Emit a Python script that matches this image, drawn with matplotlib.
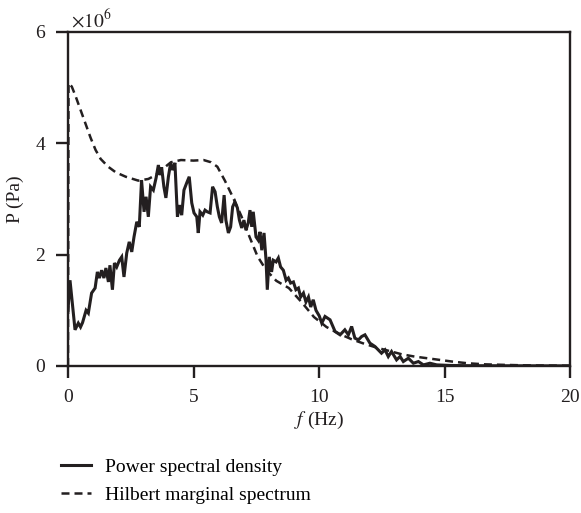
import matplotlib
matplotlib.use("Agg")
import matplotlib.pyplot as plt

plt.rcParams['font.family'] = ['Liberation Serif', 'DejaVu Serif']
plt.rcParams['mathtext.fontset'] = 'stix'

# Power spectral density (x10^6 Pa)
psd_f = [0.0, 0.08, 0.19, 0.28, 0.41, 0.50, 0.58, 0.72, 0.81, 0.94, 1.08, 1.17, 1.25, 1.34, 1.43,
         1.51, 1.61, 1.67, 1.77, 1.85, 1.94, 2.05, 2.14, 2.23, 2.34, 2.44, 2.54, 2.63, 2.74,
         2.84, 2.93, 3.03, 3.11, 3.20, 3.29, 3.40, 3.51, 3.60, 3.67, 3.73, 3.82, 3.90, 4.00,
         4.09, 4.17, 4.26, 4.36, 4.44, 4.53, 4.62, 4.73, 4.83, 4.93, 5.02, 5.13, 5.19, 5.26,
         5.37, 5.46, 5.55, 5.66, 5.76, 5.86, 5.95, 6.03, 6.12, 6.22, 6.29, 6.39, 6.48, 6.56,
         6.65, 6.75, 6.83, 6.92, 7.01, 7.09, 7.18, 7.25, 7.32, 7.38, 7.49, 7.58, 7.65, 7.72,
         7.81, 7.89, 7.94, 8.02, 8.11, 8.18, 8.29, 8.38, 8.47, 8.58, 8.69, 8.78, 8.87, 8.98,
         9.08, 9.18, 9.27, 9.38, 9.48, 9.58, 9.67, 9.77, 9.88, 10.01, 10.11, 10.24, 10.44,
         10.64, 10.84, 11.03, 11.17, 11.30, 11.43, 11.57, 11.70, 11.83, 12.03, 12.23, 12.36,
         12.49, 12.63, 12.76, 12.89, 13.09, 13.23, 13.36, 13.56, 13.76, 13.96, 14.16, 14.42,
         14.69, 15.22, 16.0, 17.0, 18.0, 19.0, 20.0]
psd_p = [1.00, 1.54, 1.06, 0.65, 0.77, 0.70, 0.78, 1.00, 0.95, 1.31, 1.40, 1.69, 1.58, 1.72, 1.58,
         1.76, 1.51, 1.81, 1.37, 1.85, 1.78, 1.90, 1.96, 1.60, 2.03, 2.23, 2.05, 2.32, 2.59,
         2.50, 3.34, 2.77, 3.04, 2.68, 3.22, 3.16, 3.38, 3.61, 3.43, 3.57, 3.22, 3.02, 3.40,
         3.65, 3.52, 3.65, 2.68, 2.89, 2.71, 3.16, 3.29, 3.40, 2.93, 2.75, 2.68, 2.39, 2.77,
         2.71, 2.80, 2.77, 2.75, 3.22, 3.13, 2.86, 2.68, 2.57, 3.07, 2.62, 2.39, 2.50, 2.86,
         2.95, 2.84, 2.62, 2.48, 2.62, 2.44, 2.57, 2.80, 2.50, 2.77, 2.32, 2.26, 2.41, 2.08,
         2.39, 1.90, 1.37, 1.96, 1.69, 1.90, 1.87, 1.94, 1.78, 1.72, 1.54, 1.58, 1.49, 1.51,
         1.37, 1.40, 1.24, 1.31, 1.15, 1.24, 1.06, 1.19, 1.00, 0.90, 0.77, 0.89, 0.83,
         0.62, 0.56, 0.65, 0.56, 0.71, 0.50, 0.47, 0.53, 0.56, 0.41, 0.35, 0.29,
         0.23, 0.29, 0.17, 0.26, 0.11, 0.17, 0.08, 0.14, 0.05, 0.08, 0.02, 0.05,
         0.02, 0.01, 0.005, 0.004, 0.003, 0.002, 0.002]

# Hilbert marginal spectrum (x10^6 Pa)
hms_f = [0.0, 0.02, 0.15, 0.3, 0.5, 0.7, 0.9, 1.1, 1.3, 1.6, 1.9, 2.3, 2.8, 3.2, 3.5, 3.8, 4.1,
         4.5, 5.0, 5.4, 5.7, 5.95, 6.25, 6.55, 6.9, 7.25, 7.55, 7.9, 8.3, 8.8, 9.3, 9.8, 10.3,
         10.8, 11.3, 11.8, 12.3, 12.8, 13.3, 13.8, 14.3, 14.8, 15.3, 15.9, 16.6, 17.4, 18.2,
         19.0, 20.0]
hms_p = [0.0, 5.08, 5.02, 4.85, 4.60, 4.35, 4.10, 3.88, 3.72, 3.58, 3.48, 3.40, 3.33, 3.36, 3.43,
         3.55, 3.66, 3.70, 3.69, 3.70, 3.66, 3.58, 3.33, 3.05, 2.70, 2.30, 1.97, 1.72, 1.53, 1.40,
         1.15, 0.88, 0.70, 0.58, 0.48, 0.40, 0.33, 0.27, 0.21, 0.17, 0.14, 0.11, 0.08, 0.05,
         0.03, 0.02, 0.012, 0.008, 0.005]

x_ticks = [0, 5, 10, 15, 20]
y_ticks = [0, 2, 4, 6]

INK = '#231f20'
FS = 14

fig = plt.figure(figsize=(5.81, 5.13), dpi=100)
ax = fig.add_axes([68 / 581, 1 - 366 / 513, 502 / 581, 334 / 513])

ax.plot(psd_f, psd_p, color=INK, lw=2.2, solid_joinstyle='miter',
        label='Power spectral density')
ax.plot(hms_f, hms_p, color=INK, lw=1.8, linestyle=(0, (3.2, 2.0)),
        label='Hilbert marginal spectrum')

ax.set_xlim(0, 20)
ax.set_ylim(0, 6)
ax.set_xticks(x_ticks)
ax.set_yticks(y_ticks)
for s in ax.spines.values():
    s.set_linewidth(1.7)
    s.set_color(INK)
ax.tick_params(direction='out', length=8.5, width=1.7, labelsize=FS, colors=INK, pad=8)

ax.set_xlabel('$f$ (Hz)', fontsize=FS, labelpad=3, color=INK)
ax.set_ylabel('P (Pa)', fontsize=FS, labelpad=8, color=INK)
ax.text(0.005, 1.003, r'$\times10^{6}$', transform=ax.transAxes, fontsize=FS,
        ha='left', va='bottom', color=INK)

fig.legend(loc='upper left', bbox_to_anchor=(61 / 581, 1 - 458 / 513), frameon=False,
           fontsize=FS, handlelength=1.55, handletextpad=0.7, labelspacing=0.55,
           borderpad=0, borderaxespad=0)

fig.savefig('out.png', dpi=100)
